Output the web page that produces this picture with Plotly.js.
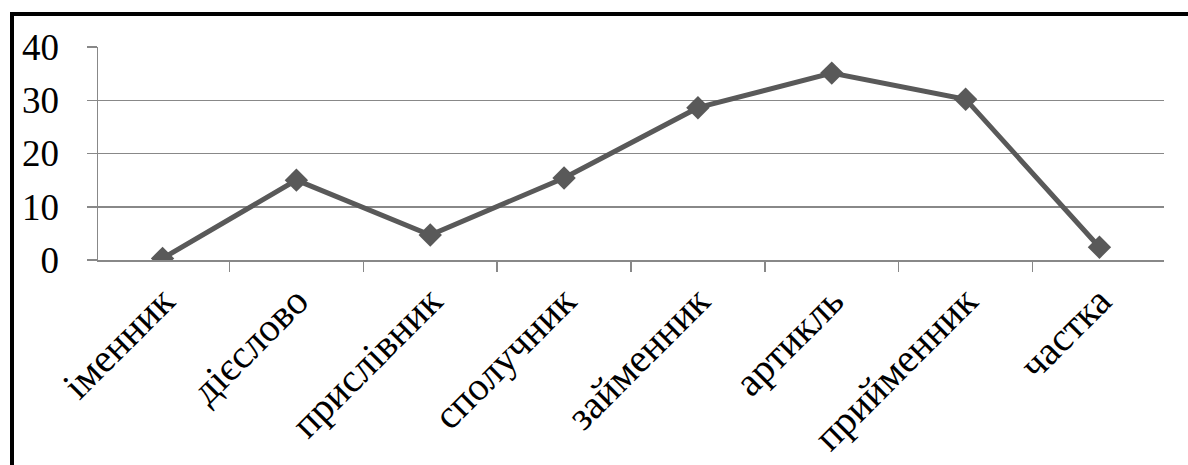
<!DOCTYPE html>
<html>
<head>
<meta charset="utf-8">
<script src="https://cdn.plot.ly/plotly-3.0.1.min.js"></script>
<style>
  html, body { margin: 0; padding: 0; background: #fff; }
  #wrap { position: relative; width: 1188px; height: 465px; overflow: hidden; }
  #chart { position: absolute; left: 0; top: 0; width: 1188px; height: 465px; }
  #frame { position: absolute; left: 10px; top: 12px; width: 1200px; height: 500px;
           border-top: 4px solid #000; border-left: 4px solid #000; pointer-events: none; }
</style>
</head>
<body>
<div id="wrap">
  <div id="chart"></div>
  <div id="frame"></div>
</div>
<script>
const categories = ["іменник", "дієслово", "прислівник", "сполучник", "займенник", "артикль", "прийменник", "частка"];
const values = [0.3, 15.0, 4.7, 15.4, 28.6, 35.1, 30.2, 2.4];
const yTicks = [0, 10, 20, 30, 40];

const FONT = "Liberation Serif";

const trace = {
  x: categories,
  y: values,
  type: "scatter",
  mode: "lines+markers",
  line: { color: "#595959", width: 5 },
  marker: { symbol: "diamond", size: 18, color: "#595959" },
  hoverinfo: "skip"
};

const layout = {
  width: 1188,
  height: 465,
  margin: { l: 98, r: 24, t: 47, b: 205 },
  paper_bgcolor: "#ffffff",
  plot_bgcolor: "#ffffff",
  showlegend: false,
  font: { family: FONT, color: "#000", size: 37 },
  xaxis: {
    type: "category",
    tickangle: -45,
    tickson: "boundaries",
    ticks: "outside",
    ticklen: 10,
    tickwidth: 1.5,
    tickcolor: "#888888",
    showline: true,
    linecolor: "#888888",
    linewidth: 1.5,
    showgrid: false,
    zeroline: false,
    tickfont: { family: FONT, size: 40, color: "#000" }
  },
  yaxis: {
    range: [0, 40],
    tickvals: yTicks,
    ticktext: yTicks.map(String),
    ticks: "outside",
    ticklen: 10,
    tickwidth: 1.5,
    tickcolor: "#888888",
    ticklabelstandoff: 20,
    showline: true,
    linecolor: "#888888",
    linewidth: 1.5,
    showgrid: true,
    gridcolor: "#888888",
    gridwidth: 1.5,
    zeroline: false,
    tickfont: { family: FONT, size: 37, color: "#000" }
  }
};

Plotly.newPlot("chart", [trace], layout, { staticPlot: true, displayModeBar: false });
</script>
</body>
</html>
